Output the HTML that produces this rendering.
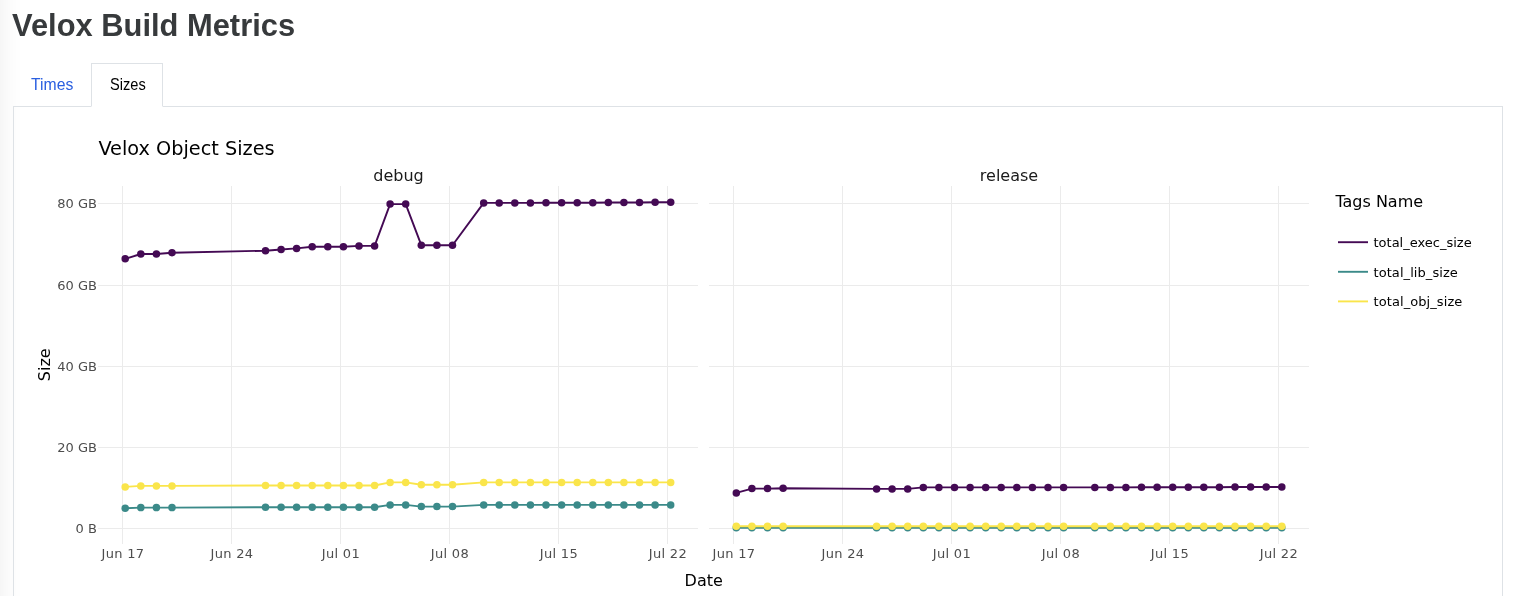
<!DOCTYPE html>
<html lang="en"><head><meta charset="utf-8"><title>Velox Build Metrics</title>
<style>
html,body{margin:0;padding:0;background:#fff;}
body{width:1515px;height:596px;overflow:hidden;position:relative;font-family:"Liberation Sans",sans-serif;color:#343a40;}
.edge{position:absolute;left:-40px;top:-40px;width:40px;height:700px;box-shadow:0 0 26px rgba(0,0,0,0.075);}
h1{position:absolute;left:12.4px;top:1px;margin:0;font-size:31.5px;line-height:48px;transform:scaleX(0.98);transform-origin:0 0;font-weight:700;color:#373a3c;white-space:nowrap;}
.tabs{position:absolute;left:13px;top:63px;height:44px;width:1490px;border-bottom:1px solid #dee2e6;box-sizing:border-box;}
.tab{position:absolute;top:0;height:44px;box-sizing:border-box;}
.tl{position:absolute;top:74px;font-size:16.5px;line-height:20px;white-space:nowrap;transform-origin:0 0;}
.tab.t1{left:0;width:78px;color:#2761e3;}
.tab.t2{left:78px;width:72px;color:#000;border:1px solid #dee2e6;border-bottom:1px solid #fff;background:#fff;}
.pane{position:absolute;left:13px;top:106px;width:1490px;height:520px;box-sizing:border-box;border:1px solid #dee2e6;border-top:none;}
svg{position:absolute;left:0;top:0;}
svg text{font-family:"DejaVu Sans","Liberation Sans",sans-serif;}
</style></head><body>
<div class="edge"></div>
<h1>Velox Build Metrics</h1>
<div class="pane"></div>
<div class="tabs"><div class="tab t1"></div><div class="tab t2"></div></div>
<div class="tl" style="left:30.6px;color:#2a5fe0;transform:scaleX(0.955)">Times</div>
<div class="tl" style="left:109.8px;color:#000;transform:scaleX(0.885)">Sizes</div>
<svg width="1515" height="596" viewBox="0 0 1515 596">
<g shape-rendering="crispEdges" fill="#ebebeb"><rect x="122" y="186" width="1" height="357.5"/><rect x="231" y="186" width="1" height="357.5"/><rect x="340" y="186" width="1" height="357.5"/><rect x="449" y="186" width="1" height="357.5"/><rect x="558" y="186" width="1" height="357.5"/><rect x="667" y="186" width="1" height="357.5"/><rect x="98" y="203" width="600" height="1"/><rect x="98" y="285" width="600" height="1"/><rect x="98" y="366" width="600" height="1"/><rect x="98" y="447" width="600" height="1"/><rect x="98" y="528" width="600" height="1"/></g>
<g shape-rendering="crispEdges" fill="#ebebeb"><rect x="733" y="186" width="1" height="357.5"/><rect x="842" y="186" width="1" height="357.5"/><rect x="951" y="186" width="1" height="357.5"/><rect x="1060" y="186" width="1" height="357.5"/><rect x="1169" y="186" width="1" height="357.5"/><rect x="1278" y="186" width="1" height="357.5"/><rect x="709" y="203" width="600" height="1"/><rect x="709" y="285" width="600" height="1"/><rect x="709" y="366" width="600" height="1"/><rect x="709" y="447" width="600" height="1"/><rect x="709" y="528" width="600" height="1"/></g>
<polyline points="125.2,258.8 140.8,254.0 156.4,254.0 172.0,252.7 265.5,250.7 281.1,249.5 296.6,248.4 312.2,246.8 327.8,246.8 343.4,246.8 359.0,245.9 374.6,245.9 390.1,204.1 405.7,204.1 421.3,245.2 436.9,245.2 452.5,245.2 483.7,202.9 499.2,202.9 514.8,202.9 530.4,202.9 546.0,202.7 561.6,202.7 577.2,202.7 592.8,202.7 608.3,202.5 623.9,202.5 639.5,202.5 655.1,202.3 670.7,202.3" fill="none" stroke="#440a54" stroke-width="1.9" stroke-linejoin="round"/>
<circle cx="125.2" cy="258.8" r="3.75" fill="#440a54"/><circle cx="140.8" cy="254.0" r="3.75" fill="#440a54"/><circle cx="156.4" cy="254.0" r="3.75" fill="#440a54"/><circle cx="172.0" cy="252.7" r="3.75" fill="#440a54"/><circle cx="265.5" cy="250.7" r="3.75" fill="#440a54"/><circle cx="281.1" cy="249.5" r="3.75" fill="#440a54"/><circle cx="296.6" cy="248.4" r="3.75" fill="#440a54"/><circle cx="312.2" cy="246.8" r="3.75" fill="#440a54"/><circle cx="327.8" cy="246.8" r="3.75" fill="#440a54"/><circle cx="343.4" cy="246.8" r="3.75" fill="#440a54"/><circle cx="359.0" cy="245.9" r="3.75" fill="#440a54"/><circle cx="374.6" cy="245.9" r="3.75" fill="#440a54"/><circle cx="390.1" cy="204.1" r="3.75" fill="#440a54"/><circle cx="405.7" cy="204.1" r="3.75" fill="#440a54"/><circle cx="421.3" cy="245.2" r="3.75" fill="#440a54"/><circle cx="436.9" cy="245.2" r="3.75" fill="#440a54"/><circle cx="452.5" cy="245.2" r="3.75" fill="#440a54"/><circle cx="483.7" cy="202.9" r="3.75" fill="#440a54"/><circle cx="499.2" cy="202.9" r="3.75" fill="#440a54"/><circle cx="514.8" cy="202.9" r="3.75" fill="#440a54"/><circle cx="530.4" cy="202.9" r="3.75" fill="#440a54"/><circle cx="546.0" cy="202.7" r="3.75" fill="#440a54"/><circle cx="561.6" cy="202.7" r="3.75" fill="#440a54"/><circle cx="577.2" cy="202.7" r="3.75" fill="#440a54"/><circle cx="592.8" cy="202.7" r="3.75" fill="#440a54"/><circle cx="608.3" cy="202.5" r="3.75" fill="#440a54"/><circle cx="623.9" cy="202.5" r="3.75" fill="#440a54"/><circle cx="639.5" cy="202.5" r="3.75" fill="#440a54"/><circle cx="655.1" cy="202.3" r="3.75" fill="#440a54"/><circle cx="670.7" cy="202.3" r="3.75" fill="#440a54"/>
<polyline points="125.2,508.2 140.8,507.6 156.4,507.6 172.0,507.6 265.5,507.2 281.1,507.2 296.6,507.2 312.2,507.2 327.8,507.2 343.4,507.2 359.0,507.2 374.6,507.2 390.1,504.9 405.7,504.9 421.3,506.6 436.9,506.6 452.5,506.6 483.7,504.9 499.2,504.9 514.8,504.9 530.4,504.9 546.0,504.9 561.6,504.9 577.2,504.9 592.8,504.9 608.3,504.9 623.9,504.9 639.5,504.9 655.1,504.9 670.7,504.9" fill="none" stroke="#3b8a89" stroke-width="1.9" stroke-linejoin="round"/>
<circle cx="125.2" cy="508.2" r="3.75" fill="#3b8a89"/><circle cx="140.8" cy="507.6" r="3.75" fill="#3b8a89"/><circle cx="156.4" cy="507.6" r="3.75" fill="#3b8a89"/><circle cx="172.0" cy="507.6" r="3.75" fill="#3b8a89"/><circle cx="265.5" cy="507.2" r="3.75" fill="#3b8a89"/><circle cx="281.1" cy="507.2" r="3.75" fill="#3b8a89"/><circle cx="296.6" cy="507.2" r="3.75" fill="#3b8a89"/><circle cx="312.2" cy="507.2" r="3.75" fill="#3b8a89"/><circle cx="327.8" cy="507.2" r="3.75" fill="#3b8a89"/><circle cx="343.4" cy="507.2" r="3.75" fill="#3b8a89"/><circle cx="359.0" cy="507.2" r="3.75" fill="#3b8a89"/><circle cx="374.6" cy="507.2" r="3.75" fill="#3b8a89"/><circle cx="390.1" cy="504.9" r="3.75" fill="#3b8a89"/><circle cx="405.7" cy="504.9" r="3.75" fill="#3b8a89"/><circle cx="421.3" cy="506.6" r="3.75" fill="#3b8a89"/><circle cx="436.9" cy="506.6" r="3.75" fill="#3b8a89"/><circle cx="452.5" cy="506.6" r="3.75" fill="#3b8a89"/><circle cx="483.7" cy="504.9" r="3.75" fill="#3b8a89"/><circle cx="499.2" cy="504.9" r="3.75" fill="#3b8a89"/><circle cx="514.8" cy="504.9" r="3.75" fill="#3b8a89"/><circle cx="530.4" cy="504.9" r="3.75" fill="#3b8a89"/><circle cx="546.0" cy="504.9" r="3.75" fill="#3b8a89"/><circle cx="561.6" cy="504.9" r="3.75" fill="#3b8a89"/><circle cx="577.2" cy="504.9" r="3.75" fill="#3b8a89"/><circle cx="592.8" cy="504.9" r="3.75" fill="#3b8a89"/><circle cx="608.3" cy="504.9" r="3.75" fill="#3b8a89"/><circle cx="623.9" cy="504.9" r="3.75" fill="#3b8a89"/><circle cx="639.5" cy="504.9" r="3.75" fill="#3b8a89"/><circle cx="655.1" cy="504.9" r="3.75" fill="#3b8a89"/><circle cx="670.7" cy="504.9" r="3.75" fill="#3b8a89"/>
<polyline points="125.2,486.9 140.8,485.9 156.4,485.9 172.0,485.9 265.5,485.5 281.1,485.5 296.6,485.5 312.2,485.5 327.8,485.5 343.4,485.5 359.0,485.5 374.6,485.5 390.1,482.4 405.7,482.4 421.3,484.7 436.9,484.7 452.5,484.7 483.7,482.4 499.2,482.4 514.8,482.4 530.4,482.4 546.0,482.4 561.6,482.4 577.2,482.4 592.8,482.4 608.3,482.4 623.9,482.4 639.5,482.4 655.1,482.4 670.7,482.4" fill="none" stroke="#fae54b" stroke-width="1.9" stroke-linejoin="round"/>
<circle cx="125.2" cy="486.9" r="3.75" fill="#fae54b"/><circle cx="140.8" cy="485.9" r="3.75" fill="#fae54b"/><circle cx="156.4" cy="485.9" r="3.75" fill="#fae54b"/><circle cx="172.0" cy="485.9" r="3.75" fill="#fae54b"/><circle cx="265.5" cy="485.5" r="3.75" fill="#fae54b"/><circle cx="281.1" cy="485.5" r="3.75" fill="#fae54b"/><circle cx="296.6" cy="485.5" r="3.75" fill="#fae54b"/><circle cx="312.2" cy="485.5" r="3.75" fill="#fae54b"/><circle cx="327.8" cy="485.5" r="3.75" fill="#fae54b"/><circle cx="343.4" cy="485.5" r="3.75" fill="#fae54b"/><circle cx="359.0" cy="485.5" r="3.75" fill="#fae54b"/><circle cx="374.6" cy="485.5" r="3.75" fill="#fae54b"/><circle cx="390.1" cy="482.4" r="3.75" fill="#fae54b"/><circle cx="405.7" cy="482.4" r="3.75" fill="#fae54b"/><circle cx="421.3" cy="484.7" r="3.75" fill="#fae54b"/><circle cx="436.9" cy="484.7" r="3.75" fill="#fae54b"/><circle cx="452.5" cy="484.7" r="3.75" fill="#fae54b"/><circle cx="483.7" cy="482.4" r="3.75" fill="#fae54b"/><circle cx="499.2" cy="482.4" r="3.75" fill="#fae54b"/><circle cx="514.8" cy="482.4" r="3.75" fill="#fae54b"/><circle cx="530.4" cy="482.4" r="3.75" fill="#fae54b"/><circle cx="546.0" cy="482.4" r="3.75" fill="#fae54b"/><circle cx="561.6" cy="482.4" r="3.75" fill="#fae54b"/><circle cx="577.2" cy="482.4" r="3.75" fill="#fae54b"/><circle cx="592.8" cy="482.4" r="3.75" fill="#fae54b"/><circle cx="608.3" cy="482.4" r="3.75" fill="#fae54b"/><circle cx="623.9" cy="482.4" r="3.75" fill="#fae54b"/><circle cx="639.5" cy="482.4" r="3.75" fill="#fae54b"/><circle cx="655.1" cy="482.4" r="3.75" fill="#fae54b"/><circle cx="670.7" cy="482.4" r="3.75" fill="#fae54b"/>
<polyline points="736.3,492.9 751.9,488.6 767.5,488.6 783.1,488.2 876.6,488.9 892.1,488.9 907.7,488.9 923.3,487.4 938.9,487.4 954.5,487.4 970.1,487.4 985.7,487.4 1001.2,487.4 1016.8,487.4 1032.4,487.4 1048.0,487.4 1063.6,487.4 1094.8,487.4 1110.3,487.4 1125.9,487.4 1141.5,487.3 1157.1,487.3 1172.7,487.3 1188.3,487.2 1203.8,487.2 1219.4,487.2 1235.0,487.0 1250.6,487.0 1266.2,487.0 1281.8,487.0" fill="none" stroke="#440a54" stroke-width="1.9" stroke-linejoin="round"/>
<circle cx="736.3" cy="492.9" r="3.75" fill="#440a54"/><circle cx="751.9" cy="488.6" r="3.75" fill="#440a54"/><circle cx="767.5" cy="488.6" r="3.75" fill="#440a54"/><circle cx="783.1" cy="488.2" r="3.75" fill="#440a54"/><circle cx="876.6" cy="488.9" r="3.75" fill="#440a54"/><circle cx="892.1" cy="488.9" r="3.75" fill="#440a54"/><circle cx="907.7" cy="488.9" r="3.75" fill="#440a54"/><circle cx="923.3" cy="487.4" r="3.75" fill="#440a54"/><circle cx="938.9" cy="487.4" r="3.75" fill="#440a54"/><circle cx="954.5" cy="487.4" r="3.75" fill="#440a54"/><circle cx="970.1" cy="487.4" r="3.75" fill="#440a54"/><circle cx="985.7" cy="487.4" r="3.75" fill="#440a54"/><circle cx="1001.2" cy="487.4" r="3.75" fill="#440a54"/><circle cx="1016.8" cy="487.4" r="3.75" fill="#440a54"/><circle cx="1032.4" cy="487.4" r="3.75" fill="#440a54"/><circle cx="1048.0" cy="487.4" r="3.75" fill="#440a54"/><circle cx="1063.6" cy="487.4" r="3.75" fill="#440a54"/><circle cx="1094.8" cy="487.4" r="3.75" fill="#440a54"/><circle cx="1110.3" cy="487.4" r="3.75" fill="#440a54"/><circle cx="1125.9" cy="487.4" r="3.75" fill="#440a54"/><circle cx="1141.5" cy="487.3" r="3.75" fill="#440a54"/><circle cx="1157.1" cy="487.3" r="3.75" fill="#440a54"/><circle cx="1172.7" cy="487.3" r="3.75" fill="#440a54"/><circle cx="1188.3" cy="487.2" r="3.75" fill="#440a54"/><circle cx="1203.8" cy="487.2" r="3.75" fill="#440a54"/><circle cx="1219.4" cy="487.2" r="3.75" fill="#440a54"/><circle cx="1235.0" cy="487.0" r="3.75" fill="#440a54"/><circle cx="1250.6" cy="487.0" r="3.75" fill="#440a54"/><circle cx="1266.2" cy="487.0" r="3.75" fill="#440a54"/><circle cx="1281.8" cy="487.0" r="3.75" fill="#440a54"/>
<polyline points="736.3,527.7 751.9,527.7 767.5,527.7 783.1,527.7 876.6,527.7 892.1,527.7 907.7,527.7 923.3,527.7 938.9,527.7 954.5,527.7 970.1,527.7 985.7,527.7 1001.2,527.7 1016.8,527.7 1032.4,527.7 1048.0,527.7 1063.6,527.7 1094.8,527.7 1110.3,527.7 1125.9,527.7 1141.5,527.7 1157.1,527.7 1172.7,527.7 1188.3,527.7 1203.8,527.7 1219.4,527.7 1235.0,527.7 1250.6,527.7 1266.2,527.7 1281.8,527.7" fill="none" stroke="#3b8a89" stroke-width="1.9" stroke-linejoin="round"/>
<circle cx="736.3" cy="527.7" r="3.75" fill="#3b8a89"/><circle cx="751.9" cy="527.7" r="3.75" fill="#3b8a89"/><circle cx="767.5" cy="527.7" r="3.75" fill="#3b8a89"/><circle cx="783.1" cy="527.7" r="3.75" fill="#3b8a89"/><circle cx="876.6" cy="527.7" r="3.75" fill="#3b8a89"/><circle cx="892.1" cy="527.7" r="3.75" fill="#3b8a89"/><circle cx="907.7" cy="527.7" r="3.75" fill="#3b8a89"/><circle cx="923.3" cy="527.7" r="3.75" fill="#3b8a89"/><circle cx="938.9" cy="527.7" r="3.75" fill="#3b8a89"/><circle cx="954.5" cy="527.7" r="3.75" fill="#3b8a89"/><circle cx="970.1" cy="527.7" r="3.75" fill="#3b8a89"/><circle cx="985.7" cy="527.7" r="3.75" fill="#3b8a89"/><circle cx="1001.2" cy="527.7" r="3.75" fill="#3b8a89"/><circle cx="1016.8" cy="527.7" r="3.75" fill="#3b8a89"/><circle cx="1032.4" cy="527.7" r="3.75" fill="#3b8a89"/><circle cx="1048.0" cy="527.7" r="3.75" fill="#3b8a89"/><circle cx="1063.6" cy="527.7" r="3.75" fill="#3b8a89"/><circle cx="1094.8" cy="527.7" r="3.75" fill="#3b8a89"/><circle cx="1110.3" cy="527.7" r="3.75" fill="#3b8a89"/><circle cx="1125.9" cy="527.7" r="3.75" fill="#3b8a89"/><circle cx="1141.5" cy="527.7" r="3.75" fill="#3b8a89"/><circle cx="1157.1" cy="527.7" r="3.75" fill="#3b8a89"/><circle cx="1172.7" cy="527.7" r="3.75" fill="#3b8a89"/><circle cx="1188.3" cy="527.7" r="3.75" fill="#3b8a89"/><circle cx="1203.8" cy="527.7" r="3.75" fill="#3b8a89"/><circle cx="1219.4" cy="527.7" r="3.75" fill="#3b8a89"/><circle cx="1235.0" cy="527.7" r="3.75" fill="#3b8a89"/><circle cx="1250.6" cy="527.7" r="3.75" fill="#3b8a89"/><circle cx="1266.2" cy="527.7" r="3.75" fill="#3b8a89"/><circle cx="1281.8" cy="527.7" r="3.75" fill="#3b8a89"/>
<polyline points="736.3,526.3 751.9,526.3 767.5,526.3 783.1,526.3 876.6,526.3 892.1,526.3 907.7,526.3 923.3,526.3 938.9,526.3 954.5,526.3 970.1,526.3 985.7,526.3 1001.2,526.3 1016.8,526.3 1032.4,526.3 1048.0,526.3 1063.6,526.3 1094.8,526.3 1110.3,526.3 1125.9,526.3 1141.5,526.3 1157.1,526.3 1172.7,526.3 1188.3,526.3 1203.8,526.3 1219.4,526.3 1235.0,526.3 1250.6,526.3 1266.2,526.3 1281.8,526.3" fill="none" stroke="#fae54b" stroke-width="1.9" stroke-linejoin="round"/>
<circle cx="736.3" cy="526.3" r="3.75" fill="#fae54b"/><circle cx="751.9" cy="526.3" r="3.75" fill="#fae54b"/><circle cx="767.5" cy="526.3" r="3.75" fill="#fae54b"/><circle cx="783.1" cy="526.3" r="3.75" fill="#fae54b"/><circle cx="876.6" cy="526.3" r="3.75" fill="#fae54b"/><circle cx="892.1" cy="526.3" r="3.75" fill="#fae54b"/><circle cx="907.7" cy="526.3" r="3.75" fill="#fae54b"/><circle cx="923.3" cy="526.3" r="3.75" fill="#fae54b"/><circle cx="938.9" cy="526.3" r="3.75" fill="#fae54b"/><circle cx="954.5" cy="526.3" r="3.75" fill="#fae54b"/><circle cx="970.1" cy="526.3" r="3.75" fill="#fae54b"/><circle cx="985.7" cy="526.3" r="3.75" fill="#fae54b"/><circle cx="1001.2" cy="526.3" r="3.75" fill="#fae54b"/><circle cx="1016.8" cy="526.3" r="3.75" fill="#fae54b"/><circle cx="1032.4" cy="526.3" r="3.75" fill="#fae54b"/><circle cx="1048.0" cy="526.3" r="3.75" fill="#fae54b"/><circle cx="1063.6" cy="526.3" r="3.75" fill="#fae54b"/><circle cx="1094.8" cy="526.3" r="3.75" fill="#fae54b"/><circle cx="1110.3" cy="526.3" r="3.75" fill="#fae54b"/><circle cx="1125.9" cy="526.3" r="3.75" fill="#fae54b"/><circle cx="1141.5" cy="526.3" r="3.75" fill="#fae54b"/><circle cx="1157.1" cy="526.3" r="3.75" fill="#fae54b"/><circle cx="1172.7" cy="526.3" r="3.75" fill="#fae54b"/><circle cx="1188.3" cy="526.3" r="3.75" fill="#fae54b"/><circle cx="1203.8" cy="526.3" r="3.75" fill="#fae54b"/><circle cx="1219.4" cy="526.3" r="3.75" fill="#fae54b"/><circle cx="1235.0" cy="526.3" r="3.75" fill="#fae54b"/><circle cx="1250.6" cy="526.3" r="3.75" fill="#fae54b"/><circle cx="1266.2" cy="526.3" r="3.75" fill="#fae54b"/><circle cx="1281.8" cy="526.3" r="3.75" fill="#fae54b"/>
<text x="122.9" y="558.2" text-anchor="middle" font-size="13" letter-spacing="0.3" fill="#4d4d4d">Jun 17</text><text x="231.9" y="558.2" text-anchor="middle" font-size="13" letter-spacing="0.3" fill="#4d4d4d">Jun 24</text><text x="340.9" y="558.2" text-anchor="middle" font-size="13" letter-spacing="0.3" fill="#4d4d4d">Jul 01</text><text x="449.9" y="558.2" text-anchor="middle" font-size="13" letter-spacing="0.3" fill="#4d4d4d">Jul 08</text><text x="558.9" y="558.2" text-anchor="middle" font-size="13" letter-spacing="0.3" fill="#4d4d4d">Jul 15</text><text x="667.9" y="558.2" text-anchor="middle" font-size="13" letter-spacing="0.3" fill="#4d4d4d">Jul 22</text><text x="733.9" y="558.2" text-anchor="middle" font-size="13" letter-spacing="0.3" fill="#4d4d4d">Jun 17</text><text x="842.9" y="558.2" text-anchor="middle" font-size="13" letter-spacing="0.3" fill="#4d4d4d">Jun 24</text><text x="951.9" y="558.2" text-anchor="middle" font-size="13" letter-spacing="0.3" fill="#4d4d4d">Jul 01</text><text x="1060.9" y="558.2" text-anchor="middle" font-size="13" letter-spacing="0.3" fill="#4d4d4d">Jul 08</text><text x="1169.9" y="558.2" text-anchor="middle" font-size="13" letter-spacing="0.3" fill="#4d4d4d">Jul 15</text><text x="1278.9" y="558.2" text-anchor="middle" font-size="13" letter-spacing="0.3" fill="#4d4d4d">Jul 22</text>
<text x="96.9" y="208.0" text-anchor="end" font-size="13" fill="#4d4d4d">80 GB</text><text x="96.9" y="290.0" text-anchor="end" font-size="13" fill="#4d4d4d">60 GB</text><text x="96.9" y="371.0" text-anchor="end" font-size="13" fill="#4d4d4d">40 GB</text><text x="96.9" y="452.0" text-anchor="end" font-size="13" fill="#4d4d4d">20 GB</text><text x="96.9" y="533.0" text-anchor="end" font-size="13" fill="#4d4d4d">0 B</text>
<text x="98.4" y="155.2" font-size="19.3" fill="#000">Velox Object Sizes</text>
<text x="398.5" y="181.3" text-anchor="middle" font-size="16" fill="#1a1a1a">debug</text>
<text x="1009" y="181.3" text-anchor="middle" font-size="16" fill="#1a1a1a">release</text>
<text x="703.7" y="585.8" text-anchor="middle" font-size="16" fill="#000">Date</text>
<text transform="translate(49.5,364.8) rotate(-90)" text-anchor="middle" font-size="16" fill="#000">Size</text>
<text x="1335.4" y="206.9" font-size="16" fill="#000">Tags Name</text>
<line x1="1338" x2="1368" y1="242.2" y2="242.2" stroke="#440a54" stroke-width="1.9"/><text x="1373.5" y="247.15" font-size="13" letter-spacing="0" fill="#000">total_exec_size</text>
<line x1="1338" x2="1368" y1="271.8" y2="271.8" stroke="#3b8a89" stroke-width="1.9"/><text x="1373.5" y="277.15" font-size="13" letter-spacing="0.07" fill="#000">total_lib_size</text>
<line x1="1338" x2="1368" y1="301.4" y2="301.4" stroke="#fae54b" stroke-width="1.9"/><text x="1373.5" y="306.2" font-size="13" letter-spacing="0.08" fill="#000">total_obj_size</text>
</svg>
</body></html>
